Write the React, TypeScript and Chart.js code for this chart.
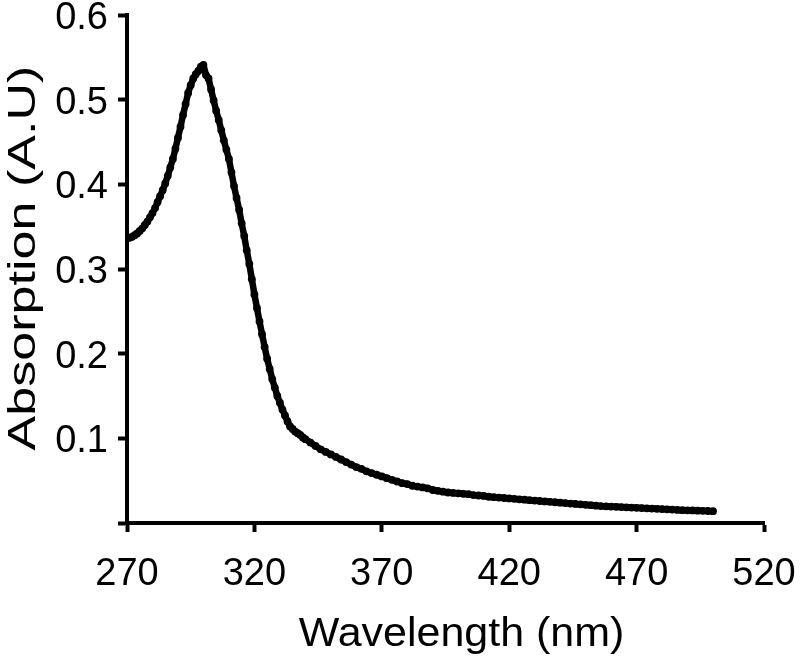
import React, { useEffect, useRef } from "react";
import { Chart, registerables } from "chart.js";

Chart.register(...registerables);

// Wavelength (nm), 1 nm steps across the band, 2 nm steps along the tail
const wavelengthBand = [
  270, 271, 272, 273, 274, 275, 276, 277, 278, 279, 280, 281, 282, 283, 284, 285, 286, 287, 288, 289,
  290, 291, 292, 293, 294, 295, 296, 297, 298, 299, 300, 301, 302, 303, 304, 305, 306, 307, 308, 309,
  310, 311, 312, 313, 314, 315, 316, 317, 318, 319, 320, 321, 322, 323, 324, 325, 326, 327, 328, 329,
  330, 331, 332, 333, 334, 335, 336, 337, 338, 339, 340,
];
const absorptionBand = [
  0.336, 0.337, 0.338, 0.34, 0.342, 0.345, 0.348, 0.352, 0.356, 0.361, 0.366, 0.372, 0.379, 0.386, 0.393, 0.401, 0.41, 0.42, 0.43, 0.442,
  0.455, 0.468, 0.482, 0.495, 0.508, 0.517, 0.525, 0.53, 0.534, 0.539, 0.541, 0.529, 0.525, 0.512, 0.499, 0.487, 0.476, 0.464, 0.452, 0.441,
  0.43, 0.414, 0.398, 0.384, 0.37, 0.354, 0.339, 0.322, 0.306, 0.288, 0.27, 0.254, 0.238, 0.223, 0.208, 0.194, 0.182, 0.17, 0.16, 0.15,
  0.142, 0.134, 0.127, 0.12, 0.114, 0.111, 0.108, 0.106, 0.104, 0.101, 0.099,
];
const wavelengthTail = [
  342, 344, 346, 348, 350, 352, 354, 356, 358, 360, 362, 364, 366, 368, 370, 372, 374, 376, 378, 380,
  382, 384, 386, 388, 390, 392, 394, 396, 398, 400, 402, 404, 406, 408, 410, 412, 414, 416, 418, 420,
  422, 424, 426, 428, 430, 432, 434, 436, 438, 440, 442, 444, 446, 448, 450, 452, 454, 456, 458, 460,
  462, 464, 466, 468, 470, 472, 474, 476, 478, 480, 482, 484, 486, 488, 490, 492, 494, 496, 498, 500,
];
const absorptionTail = [
  0.095, 0.091, 0.087, 0.084, 0.081, 0.078, 0.075, 0.072, 0.069, 0.066, 0.064, 0.061, 0.059, 0.057, 0.055, 0.053, 0.051, 0.049, 0.047, 0.046,
  0.044, 0.043, 0.042, 0.041, 0.039, 0.038, 0.037, 0.036, 0.0355, 0.035, 0.0345, 0.034, 0.033, 0.0325, 0.032, 0.031, 0.0305, 0.03, 0.0295, 0.029,
  0.0285, 0.028, 0.0275, 0.027, 0.0265, 0.026, 0.0255, 0.025, 0.0245, 0.024, 0.0235, 0.023, 0.0225, 0.022, 0.0215, 0.021, 0.0205, 0.02, 0.0197, 0.0194,
  0.0191, 0.0188, 0.0185, 0.0182, 0.0179, 0.0176, 0.0173, 0.017, 0.0167, 0.0164, 0.0161, 0.0158, 0.0155, 0.0152, 0.015, 0.0148, 0.0146, 0.0144, 0.0142, 0.014,
];

const xTicks = [270, 320, 370, 420, 470, 520];
const yTicks = [0, 0.1, 0.2, 0.3, 0.4, 0.5, 0.6];
const xTitle = "Wavelength (nm)";
const yTitle = "Absorption (A.U)";

const FONT = '"Liberation Sans", Arial, Helvetica, sans-serif';

const titlesPlugin = {
  id: "stretchedTitles",
  afterDraw(chart: any) {
    const { ctx, chartArea } = chart;
    ctx.save();
    ctx.fillStyle = "#000";
    ctx.textAlign = "center";
    ctx.textBaseline = "alphabetic";
    // x title
    ctx.save();
    ctx.font = `40px ${FONT}`;
    ctx.translate((chartArea.left + chartArea.right) / 2 + 16, chartArea.bottom + 123);
    ctx.scale(1.074, 1);
    ctx.fillText(xTitle, 0, 0);
    ctx.restore();
    // y title
    ctx.save();
    ctx.font = `38px ${FONT}`;
    ctx.translate(chartArea.left - 92, (chartArea.top + chartArea.bottom) / 2 - 11);
    ctx.rotate(-Math.PI / 2);
    ctx.scale(1.37, 1);
    ctx.fillText(yTitle, 0, 0);
    ctx.restore();
    ctx.restore();
  },
};

export default function App() {
  const ref = useRef<HTMLCanvasElement | null>(null);

  useEffect(() => {
    if (!ref.current) return;
    const points = [
      ...wavelengthBand.map((x, i) => ({ x, y: absorptionBand[i] })),
      ...wavelengthTail.map((x, i) => ({ x, y: absorptionTail[i] })),
    ];
    const chart = new Chart(ref.current, {
      type: "line",
      data: {
        datasets: [
          {
            data: points,
            borderColor: "#000",
            backgroundColor: "#000",
            borderWidth: 6.5,
            borderCapStyle: "round",
            borderJoinStyle: "round",
            pointRadius: 3.9,
            pointBorderWidth: 0,
            pointBackgroundColor: "#000",
            tension: 0,
            fill: false,
          },
        ],
      },
      plugins: [titlesPlugin],
      options: {
        responsive: false,
        animation: false,
        devicePixelRatio: 1,
        layout: { padding: { top: 15, right: 36, left: 0, bottom: 0 } },
        plugins: { legend: { display: false }, tooltip: { enabled: false } },
        scales: {
          x: {
            type: "linear",
            min: 270,
            max: 520,
            afterBuildTicks: (s: any) => {
              s.ticks = xTicks.map((v) => ({ value: v }));
            },
            afterFit: (s: any) => {
              s.height = 662 - 523;
              s.paddingLeft = 0;
              s.paddingRight = 0;
            },
            grid: {
              display: true,
              drawOnChartArea: false,
              drawTicks: true,
              tickLength: 9,
              tickWidth: 4,
              tickColor: "#000",
            },
            border: { display: true, color: "#000", width: 4 },
            ticks: {
              color: "#000",
              font: { family: FONT, size: 38 },
              padding: 20,
              maxRotation: 0,
              autoSkip: false,
              callback: (v: any) => String(v),
            },
          },
          y: {
            type: "linear",
            min: 0,
            max: 0.6,
            afterBuildTicks: (s: any) => {
              s.ticks = yTicks.map((v) => ({ value: v }));
            },
            afterFit: (s: any) => {
              s.width = 127;
              s.paddingTop = 0;
              s.paddingBottom = 0;
            },
            grid: {
              display: true,
              drawOnChartArea: false,
              drawTicks: true,
              tickLength: 9,
              tickWidth: 4,
              tickColor: "#000",
            },
            border: { display: true, color: "#000", width: 4 },
            ticks: {
              color: "#000",
              font: { family: FONT, size: 38, lineHeight: "7px" },
              padding: 10,
              autoSkip: false,
              // two-line label (empty first line) nudges the text slightly below the tick
              callback: (v: any) => (v === 0 ? "" : ["", Number(v).toFixed(1)]),
            },
          },
        },
      },
    });
    return () => chart.destroy();
  }, []);

  return (
    <div style={{ position: "absolute", left: 0, top: 0, width: 800, height: 662, background: "#fff" }}>
      <canvas ref={ref} width={800} height={662} style={{ display: "block" }} />
    </div>
  );
}
